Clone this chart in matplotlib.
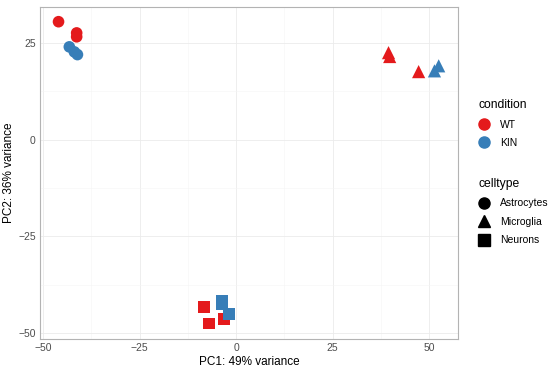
import matplotlib
matplotlib.use("Agg")
import matplotlib.pyplot as plt
from matplotlib.lines import Line2D

plt.rcParams['font.family'] = ['Liberation Sans', 'DejaVu Sans']

# Data
conditions = ["WT", "WT", "WT", "KIN", "KIN", "KIN",
              "WT", "WT", "WT", "KIN", "KIN",
              "WT", "WT", "WT", "KIN", "KIN", "KIN"]
celltypes = ["Astrocytes"] * 6 + ["Microglia"] * 5 + ["Neurons"] * 6
pc1 = [-46.0, -41.3, -41.3, -43.2, -41.9, -41.1,
       39.5, 39.8, 47.3, 51.4, 52.5,
       -8.3, -7.0, -3.1, -3.6, -3.6, -1.8]
pc2 = [30.5, 27.6, 26.6, 24.0, 22.7, 22.0,
       22.5, 21.5, 17.6, 17.8, 19.1,
       -43.2, -47.5, -46.3, -41.6, -42.6, -45.0]

cond_levels = ["WT", "KIN"]
cell_levels = ["Astrocytes", "Microglia", "Neurons"]
colors = {"WT": "#E41A1C", "KIN": "#377EB8"}
markers = {"Astrocytes": "o", "Microglia": "^", "Neurons": "s"}
xticks = [-50, -25, 0, 25, 50]
yticks = [-50, -25, 0, 25]

fig = plt.figure(figsize=(5.5, 3.72), dpi=100)
ax = fig.add_axes([40/550, 33/372, 418/550, 332/372])

for c in cond_levels:
    for ct in cell_levels:
        xs = [x for x, cc, tt in zip(pc1, conditions, celltypes) if cc == c and tt == ct]
        ys = [y for y, cc, tt in zip(pc2, conditions, celltypes) if cc == c and tt == ct]
        if xs:
            ax.scatter(xs, ys, c=colors[c], marker=markers[ct], s=70 if ct != "Microglia" else 90,
                       edgecolors='none', zorder=3)

ax.set_xlim(-50.8, 57.5)
ax.set_ylim(-51.5, 34.3)
ax.set_xticks(xticks)
ax.set_yticks(yticks)
ax.set_xticks([-37.5, -12.5, 12.5, 37.5], minor=True)
ax.set_yticks([-37.5, -12.5, 12.5], minor=True)
ax.grid(True, which='major', color='#EBEBEB', linewidth=0.6)
ax.grid(True, which='minor', color='#F5F5F5', linewidth=0.4)
ax.set_axisbelow(True)
for sp in ax.spines.values():
    sp.set_color('#B3B3B3')
    sp.set_linewidth(0.8)
ax.tick_params(which='both', length=0)
ax.tick_params(which='major', labelsize=7.5, colors='#4D4D4D', pad=3)
ax.set_xlabel("PC1: 49% variance", fontsize=8.5, labelpad=2)
ax.set_ylabel("PC2: 36% variance", fontsize=8.5, labelpad=2)

# Legends
common = dict(loc='upper left', frameon=False, fontsize=7.5, title_fontsize=8.7,
              alignment='left', handletextpad=0.9, labelspacing=0.8, borderaxespad=0,
              handlelength=1.2)
h1 = [Line2D([], [], linestyle='none', marker='o', color=colors[c], markersize=8) for c in cond_levels]
leg1 = fig.legend(h1, cond_levels, title="condition",
                  bbox_to_anchor=(474/550, 1 - 95/372), **common)
h2 = [Line2D([], [], linestyle='none', marker=markers[t], color='black', markersize=8) for t in cell_levels]
leg2 = fig.legend(h2, cell_levels, title="celltype",
                  bbox_to_anchor=(474/550, 1 - 174/372), **common)

fig.savefig("out.png", dpi=100)
